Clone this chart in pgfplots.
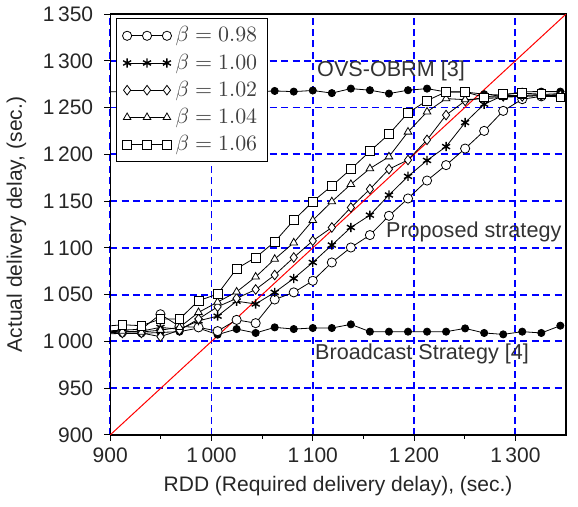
\documentclass[border=0pt]{standalone}
\usepackage[no-math]{fontspec}
\setmainfont{Liberation Sans}
\usepackage{pgfplots}
\usepackage{pgfplotstable}
\pgfplotsset{compat=1.18}

% columns: RDD, beta=0.98 ... 1.06, OVS-OBRM, broadcast
\pgfplotstableread{
x      b098   b100   b102   b104   b106   ovs    bc
893.2  1011   1009   1009   1010   1016   1267   1008
912.0  1012   1010   1009   1011   1017.8 1267   1008.5
930.8  1013   1011   1009   1010   1016.8 1268   1008.5
949.6  1029   1015   1005   1012   1023.9 1266   1009.6
968.4  1016   1013   1012   1015   1023.9 1268   1010.4
987.2  1015   1022   1024   1031   1043.5 1267   1014.3
1006.0 1011   1027   1037   1042   1050.6 1266   1007.2
1024.8 1023   1043   1046   1053   1077.7 1268   1013.2
1043.6 1019.5 1040   1055.5 1069   1089.7 1267   1009
1062.4 1044.8 1052.4 1071   1088   1106.5 1267.8 1015
1081.2 1052.4 1067.3 1089.7 1105.5 1129.5 1267.1 1013.2
1100.0 1064.8 1084.4 1107.6 1129.5 1149.5 1268.3 1014.3
1118.8 1084.4 1103   1121.8 1149.5 1166.3 1265.5 1014.3
1137.6 1100.4 1121.8 1143.2 1168   1184.2 1270.3 1018.2
1156.4 1113.7 1135   1162.8 1184.8 1203.3 1268.6 1010.4
1175.2 1134.3 1156.5 1184.2 1197.5 1221.6 1265   1010.4
1194.0 1152.8 1176.5 1194   1224   1244.4 1268.6 1010.4
1212.8 1172   1193.5 1215.5 1245.5 1257.5 1270.3 1010.4
1231.6 1188.5 1208.3 1242   1259.6 1266.8 1266.7 1010.4
1250.4 1206.2 1234   1257.2 1258.5 1266.8 1266.7 1013.9
1269.2 1225.1 1253.6 1261   1259.5 1261   1264.3 1009
1288.0 1246.5 1263   1262   1261   1264.3 1263.2 1007.5
1306.8 1259   1263   1262   1262   1265.5 1267   1010.4
1325.6 1262   1264   1263   1263   1264.3 1267.1 1009
1344.4 1262   1265   1263   1264   1261   1267.1 1016.8
}\rdd

\begin{document}
\begin{tikzpicture}
\begin{axis}[
  name=ax,
  scale only axis,
  width=228pt, height=210.5pt,
  xmin=900, xmax=1350, ymin=900, ymax=1350,
  xtick={900,1000,1100,1200,1300},
  xticklabels={900,1\,000,1\,100,1\,200,1\,300},
  minor x tick num=1,
  ytick={900,950,1000,1050,1100,1150,1200,1250,1300,1350},
  yticklabels={900,950,1\,000,1\,050,1\,100,1\,150,1\,200,1\,250,1\,300,1\,350},
  tick pos=left,
  tick align=outside,
  major tick length=3pt, minor tick length=2pt,
  every tick/.style={draw=black, line width=0.5pt},
  axis line style={black, line width=0.7pt},
  grid=major,
  grid style={draw=blue, line width=0.9pt, dash pattern=on 3.5pt off 2.2pt},
  major grid style={draw=blue, line width=0.9pt, dash pattern=on 3.5pt off 2.2pt},
  ticklabel style={font=\fontsize{10.5}{12}\selectfont, text=black!85},
  yticklabel style={xshift=-2pt},
  label style={font=\fontsize{10.5}{12}\selectfont, text=black!85},
  ylabel style={yshift=1.5pt},
  xlabel={RDD (Required delivery delay), (sec.)},
  ylabel={Actual delivery delay, (sec.)},
  legend style={at={(0.013,0.99)}, anchor=north west, draw=black, fill=white,
    font=\fontsize{10.5}{12}\selectfont, text=black!75, row sep=0.5pt},
  legend cell align=left,
  legend image code/.code={
    \draw[#1, mark repeat=1, mark phase=1] plot coordinates {(0cm,0cm) (0.35cm,0cm) (0.7cm,0cm)};
  },
  every axis plot/.append style={black, line width=0.4pt},
]
\addplot[red, line width=0.5pt, forget plot] coordinates {(900,900) (1350,1350)};
\addplot[mark=*, mark size=1.8pt, forget plot] table[x=x, y=ovs] {\rdd};
\addplot[mark=*, mark size=1.8pt, forget plot] table[x=x, y=bc] {\rdd};

\addplot[mark=*, mark size=2.3pt, mark options={fill=white}] table[x=x, y=b098] {\rdd};
\addlegendentry{$\beta = 0.98$}
\addplot[mark=asterisk, mark size=2.3pt, mark options={line width=0.7pt}] table[x=x, y=b100] {\rdd};
\addlegendentry{$\beta = 1.00$}
\addplot[mark=diamond*, mark size=2.4pt, mark options={fill=white}] table[x=x, y=b102] {\rdd};
\addlegendentry{$\beta = 1.02$}
\addplot[mark=triangle*, mark size=2.2pt, mark options={fill=white}] table[x=x, y=b104] {\rdd};
\addlegendentry{$\beta = 1.04$}
\addplot[mark=square*, mark size=2.2pt, mark options={fill=white}] table[x=x, y=b106] {\rdd};
\addlegendentry{$\beta = 1.06$}

\node[anchor=west, inner sep=0pt, font=\fontsize{10.8}{12}\selectfont, text=black!80] at (axis cs:1104,1289) {OVS-OBRM [3]};
\node[anchor=west, inner sep=0pt, font=\fontsize{10.8}{12}\selectfont, text=black!80] at (axis cs:1172,1117) {Proposed strategy};
\node[anchor=west, inner sep=0pt, font=\fontsize{10.8}{12}\selectfont, text=black!80] at (axis cs:1102,987) {Broadcast Strategy [4]};
\end{axis}
\path ([xshift=6pt,yshift=5pt]ax.north east) ([yshift=-2pt]ax.outer south);
\end{tikzpicture}
\end{document}
